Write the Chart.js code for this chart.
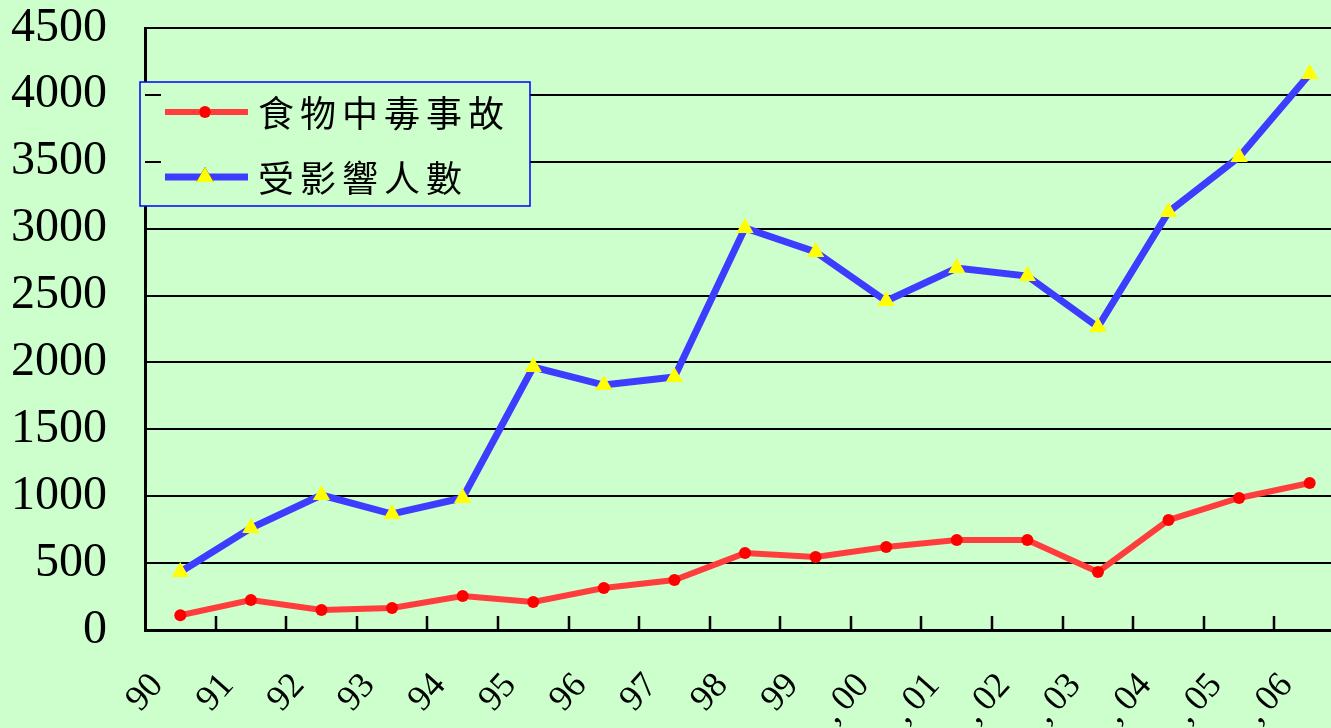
<!DOCTYPE html>
<html>
<head>
<meta charset="utf-8">
<script src="https://cdn.jsdelivr.net/npm/chart.js@4.4.1/dist/chart.umd.min.js"></script>
<style>
  html, body { margin: 0; padding: 0; background: #ccffcc; overflow: hidden; }
  #wrap { position: relative; width: 1355px; height: 728px; }
</style>
</head>
<body>
<div id="wrap"><canvas id="poisonChart"></canvas></div>
<script>
// Year labels along the bottom
const years = ['90', '91', '92', '93', '94', '95', '96', '97', '98', '99',
  ',\u200900', ',\u200901', ',\u200902', ',\u200903', ',\u200904', ',\u200905', ',\u200906'];

// Food poisoning incidents
const incidents = [110, 224, 150, 165, 254, 210, 314, 374, 575, 546,
  620, 673, 673, 434, 822, 987, 1099];

// People affected
const affected = [434, 762, 1009, 867, 987, 1966, 1831, 1891, 3005, 2826,
  2459, 2706, 2646, 2265, 3125, 3536, 4156];

const seriesNames = ['食物中毒事故', '受影響人數'];
const yTicks = [0, 500, 1000, 1500, 2000, 2500, 3000, 3500, 4000, 4500];

// Legend box drawn inside the plot, plus the little inside tick marks
const boxLegend = {
  id: 'boxLegend',
  afterDraw(chart) {
    const ctx = chart.ctx;
    const area = chart.chartArea;
    const xs = chart.scales.x;
    const ys = chart.scales.y;

    // tick marks on x axis pointing up, at category boundaries
    ctx.save();
    ctx.strokeStyle = '#000';
    ctx.lineWidth = 2.5;
    for (let i = 1; i < years.length; i++) {
      const x = Math.round((xs.getPixelForValue(i - 1) + xs.getPixelForValue(i)) / 2);
      ctx.beginPath();
      ctx.moveTo(x, area.bottom);
      ctx.lineTo(x, area.bottom - 14);
      ctx.stroke();
    }
    ctx.restore();

    // legend box
    const bx = 140, by = 82, bw = 390, bh = 124;
    ctx.save();
    ctx.fillStyle = '#ccffcc';
    ctx.fillRect(bx, by, bw, bh);
    ctx.strokeStyle = '#0000ff';
    ctx.lineWidth = 1.5;
    ctx.strokeRect(bx, by, bw, bh);

    // short y tick marks still visible over the box
    ctx.strokeStyle = '#000';
    ctx.lineWidth = 2;
    yTicks.forEach(v => {
      const y = Math.round(ys.getPixelForValue(v));
      if (y > by && y < by + bh) {
        ctx.beginPath();
        ctx.moveTo(area.left, y);
        ctx.lineTo(area.left + 16, y);
        ctx.stroke();
      }
    });

    const rows = [112, 177];
    chart.data.datasets.forEach((ds, i) => {
      const y = rows[i];
      ctx.strokeStyle = ds.borderColor;
      ctx.lineWidth = ds.borderWidth;
      ctx.beginPath();
      ctx.moveTo(165, y);
      ctx.lineTo(248, y);
      ctx.stroke();
      Chart.helpers.drawPoint(ctx, {
        pointStyle: ds.pointStyle,
        radius: ds.pointRadius,
        borderWidth: 0
      }, 205, y);
      ctx.fillStyle = ds.pointBackgroundColor;
      ctx.fill();

      ctx.fillStyle = '#000';
      ctx.font = '36px "Noto Sans CJK TC"';
      ctx.letterSpacing = '6px';
      ctx.textBaseline = 'middle';
      ctx.textAlign = 'left';
      ctx.fillText(ds.label, 258, y + 1);
    });
    ctx.restore();
  }
};

const ctx = document.getElementById('poisonChart').getContext('2d');
new Chart(ctx, {
  type: 'line',
  data: {
    labels: years,
    datasets: [{
      label: seriesNames[0],
      data: incidents,
      borderColor: '#ff3d3d',
      borderWidth: 6,
      pointStyle: 'circle',
      pointRadius: 6,
      pointBackgroundColor: '#ff0000',
      pointBorderWidth: 0,
      tension: 0
    }, {
      label: seriesNames[1],
      data: affected,
      borderColor: '#3d3dff',
      borderWidth: 7,
      pointStyle: 'triangle',
      pointRadius: 10,
      pointBackgroundColor: '#ffff00',
      pointBorderWidth: 0,
      tension: 0
    }]
  },
  options: {
    responsive: true,
    maintainAspectRatio: false,
    animation: false,
    layout: { padding: { top: 28, right: 2, left: 0, bottom: 0 } },
    plugins: {
      legend: { display: false },
      tooltip: { enabled: false }
    },
    scales: {
      x: {
        offset: true,
        grid: { display: false, drawTicks: false },
        border: { color: '#000', width: 3 },
        afterFit: function (scale) {
          scale.height = 98;
          scale.paddingLeft = 0;
          scale.paddingRight = 0;
        },
        ticks: {
          color: '#000',
          font: { family: '"Liberation Serif"', size: 36 },
          minRotation: 48,
          maxRotation: 48,
          autoSkip: false,
          labelOffset: -23,
          padding: 35
        }
      },
      y: {
        min: 0,
        max: 4500,
        afterFit: function (scale) {
          scale.width = 145;
          scale.paddingTop = 0;
          scale.paddingBottom = 0;
        },
        afterBuildTicks: function (scale) {
          scale.ticks = yTicks.map(v => ({ value: v }));
        },
        grid: { color: '#000', lineWidth: 2, drawTicks: false },
        border: { color: '#000', width: 3 },
        ticks: {
          color: '#000',
          font: { family: '"Liberation Serif"', size: 48 },
          padding: 38,
          callback: function (value) { return String(value); }
        }
      }
    }
  },
  plugins: [boxLegend]
});
</script>
</body>
</html>
